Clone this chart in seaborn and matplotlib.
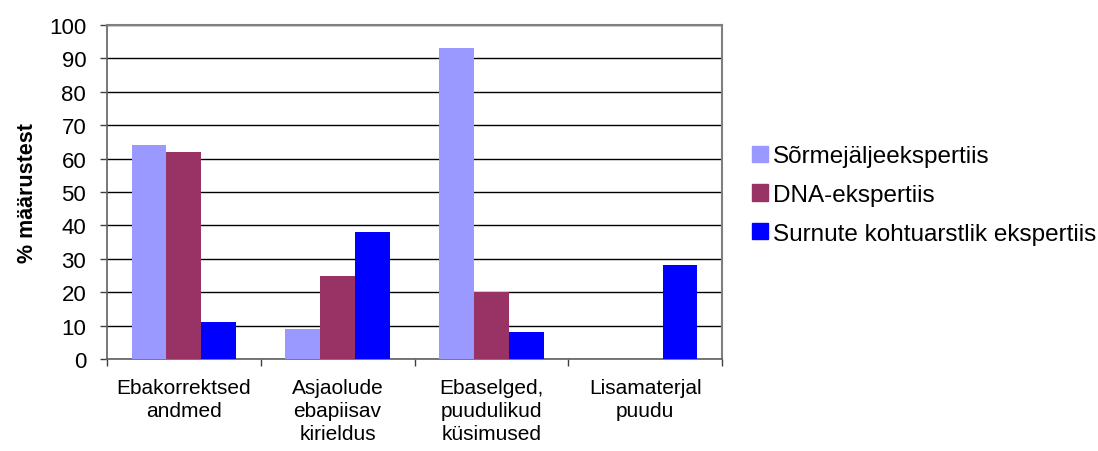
import pandas as pd
import seaborn as sns
import matplotlib.pyplot as plt
from matplotlib.ticker import FixedLocator

categories = ['Ebakorrektsed\nandmed', 'Asjaolude\nebapiisav\nkirieldus',
              'Ebaselged,\npuudulikud\nküsimused', 'Lisamaterjal\npuudu']
series = ['Sõrmejäljeekspertiis', 'DNA-ekspertiis', 'Surnute kohtuarstlik ekspertiis']
sormejalg = [64, 9, 93, 0]
dna = [62, 25, 20, 0]
surnute = [11, 38, 8, 28]
colors = ['#9999FF', '#993366', '#0000FF']

df = pd.DataFrame({
    'Kategooria': categories * 3,
    'Seeria': [series[0]] * 4 + [series[1]] * 4 + [series[2]] * 4,
    'Väärtus': sormejalg + dna + surnute,
})

sns.set_style('white', {'text.color': 'black', 'axes.labelcolor': 'black',
                        'xtick.color': 'black', 'ytick.color': 'black'})
plt.rcParams['font.family'] = ['Liberation Sans', 'DejaVu Sans']

fig = plt.figure(figsize=(10.98, 4.52), dpi=100)
ax = fig.add_axes([107 / 1098, 1 - 360 / 452, 615 / 1098, 334 / 452])

sns.barplot(data=df, x='Kategooria', y='Väärtus', hue='Seeria', palette=colors,
            width=0.68, saturation=1, linewidth=0, ax=ax, legend=False, zorder=3)

ax.set_ylim(0, 100)
ax.set_xlim(-0.5, 3.5)
ax.set_yticks(range(0, 101, 10))
ax.tick_params(axis='y', labelsize=16, length=5, width=1, color='#404040',
               labelcolor='black', direction='out', left=True, pad=10)
ax.tick_params(axis='x', which='major', length=0, labelsize=15, labelcolor='black', pad=14)
for lbl in ax.get_xticklabels():
    lbl.set_linespacing(1.25)
ax.xaxis.set_minor_locator(FixedLocator([-0.5, 0.5, 1.5, 2.5, 3.5]))
ax.tick_params(axis='x', which='minor', length=5, width=1, color='#404040',
               direction='out', bottom=True)
ax.grid(axis='y', color='black', linewidth=1, zorder=0)
ax.set_axisbelow(True)
ax.set_xlabel('')
ax.set_ylabel('% määrustest', fontsize=15.5, fontweight='bold', color='black', labelpad=8)

for side in ['top', 'right']:
    ax.spines[side].set_color('#808080')
    ax.spines[side].set_linewidth(1.5)
for side in ['left', 'bottom']:
    ax.spines[side].set_color('#606060')
    ax.spines[side].set_linewidth(1.2)

handles = [plt.Rectangle((0, 0), 1, 1, color=c) for c in colors]
leg = fig.legend(handles, series, loc='center left', bbox_to_anchor=(752 / 1098, 1 - 196 / 452),
                 frameon=False, fontsize=17.5, handlelength=0.66, handleheight=0.66,
                 handletextpad=0.22, labelspacing=0.68, borderpad=0, borderaxespad=0)
for t in leg.get_texts():
    t.set_color('black')

fig.savefig('out.png', dpi=100)
